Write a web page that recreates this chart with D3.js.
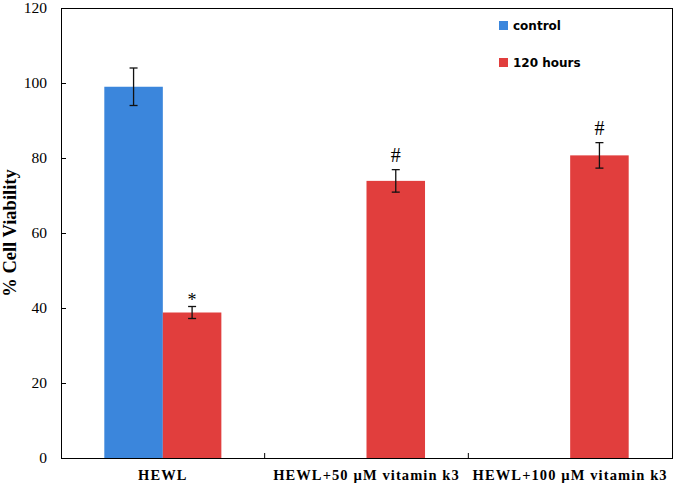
<!DOCTYPE html>
<html>
<head>
<meta charset="utf-8">
<script src="https://cdn.jsdelivr.net/npm/d3@7"></script>
<style>
  body { margin: 0; background: #fff; overflow: hidden; }
  svg { display: block; }
</style>
</head>
<body>
<script>
var categories = ["HEWL", "HEWL+50 \u00b5M vitamin k3", "HEWL+100 \u00b5M vitamin k3"];
var seriesNames = ["control", "120 hours"];
var controlValues = [99.0, null, null];
var controlErrors = [5.0, null, null];
var hoursValues = [38.8, 73.9, 80.7];
var hoursErrors = [1.6, 3.0, 3.4];
var marks = ["*", "#", "#"];
var yTicks = [0, 20, 40, 60, 80, 100, 120];

var colors = ["#3b86dc", "#e13e3d"];

var width = 675, height = 486;
var plotLeft = 61, plotRight = 672, plotTop = 8, plotBottom = 458;

var svg = d3.select("body").append("svg")
    .attr("width", width)
    .attr("height", height);

var x = d3.scaleBand().domain(categories).range([plotLeft, plotRight]);
var xInner = d3.scaleBand().domain(seriesNames)
    .range([0, x.bandwidth()])
    .paddingOuter(0.74);
var y = d3.scaleLinear().domain([0, 120]).range([plotBottom, plotTop]);

// plot box
svg.append("rect")
    .attr("x", plotLeft + 0.5).attr("y", plotTop + 0.5)
    .attr("width", plotRight - plotLeft).attr("height", plotBottom - plotTop)
    .style("fill", "none").style("stroke", "#000").style("stroke-width", 1);

// bars
var rows = [];
categories.forEach(function (c, i) {
    if (controlValues[i] != null) rows.push({cat: c, s: 0, v: controlValues[i], e: controlErrors[i]});
    if (hoursValues[i] != null) rows.push({cat: c, s: 1, v: hoursValues[i], e: hoursErrors[i], mark: marks[i]});
});

svg.selectAll("rect.bar")
    .data(rows)
    .enter()
    .append("rect")
    .attr("class", "bar")
    .attr("x", function (d) { return x(d.cat) + xInner(seriesNames[d.s]); })
    .attr("y", function (d) { return y(d.v); })
    .attr("width", xInner.bandwidth())
    .attr("height", function (d) { return y(0) - y(d.v); })
    .style("fill", function (d) { return colors[d.s]; });

// error bars
var eb = svg.selectAll("g.err")
    .data(rows)
    .enter()
    .append("g")
    .attr("class", "err")
    .style("stroke", "#111")
    .style("stroke-width", 1.3);
function cx(d) { return x(d.cat) + xInner(seriesNames[d.s]) + xInner.bandwidth() / 2; }
eb.append("line")
    .attr("x1", cx).attr("x2", cx)
    .attr("y1", function (d) { return y(d.v + d.e); })
    .attr("y2", function (d) { return y(d.v - d.e); });
eb.append("line")
    .attr("x1", function (d) { return cx(d) - 4; }).attr("x2", function (d) { return cx(d) + 4; })
    .attr("y1", function (d) { return y(d.v + d.e); })
    .attr("y2", function (d) { return y(d.v + d.e); });
eb.append("line")
    .attr("x1", function (d) { return cx(d) - 4; }).attr("x2", function (d) { return cx(d) + 4; })
    .attr("y1", function (d) { return y(d.v - d.e); })
    .attr("y2", function (d) { return y(d.v - d.e); });

// significance marks
svg.selectAll("text.mark")
    .data(rows.filter(function (d) { return d.mark; }))
    .enter()
    .append("text")
    .attr("class", "mark")
    .attr("x", cx)
    .attr("y", function (d) { return y(d.v + d.e) - (d.mark == "*" ? 1 : 8); })
    .attr("text-anchor", "middle")
    .style("font-family", "Liberation Serif")
    .style("font-size", function (d) { return d.mark == "*" ? "18px" : "20px"; })
    .text(function (d) { return d.mark; });

// y axis
var yAxis = svg.append("g")
    .attr("transform", "translate(" + plotLeft + ",0)")
    .call(d3.axisLeft(y).tickValues(yTicks).tickSizeInner(-5).tickSizeOuter(0).tickPadding(14));
yAxis.select(".domain").remove();
yAxis.selectAll("text")
    .style("font-family", "Liberation Serif")
    .style("font-size", "15.5px")
    .style("fill", "#000");

// x axis
var xAxis = svg.append("g")
    .attr("transform", "translate(0," + plotBottom + ")")
    .call(d3.axisBottom(x).tickSize(0).tickPadding(12));
xAxis.select(".domain").remove();
xAxis.selectAll("text")
    .style("font-family", "Liberation Serif")
    .style("font-weight", "bold")
    .style("font-size", "14.5px")
    .style("letter-spacing", "1.1px")
    .style("fill", "#000");

// category divider ticks
svg.selectAll("line.xtick")
    .data(categories.slice(1))
    .enter()
    .append("line")
    .attr("x1", function (d) { return x(d); })
    .attr("x2", function (d) { return x(d); })
    .attr("y1", plotBottom)
    .attr("y2", plotBottom - 5)
    .style("stroke", "#000");

// y label
svg.append("text")
    .attr("transform", "translate(16," + ((plotTop + plotBottom) / 2) + ") rotate(-90)")
    .attr("text-anchor", "middle")
    .style("font-family", "Liberation Serif")
    .style("font-weight", "bold")
    .style("font-size", "18.5px")
    .text("% Cell Viability");

// legend
var legend = svg.selectAll("g.legend")
    .data(seriesNames)
    .enter()
    .append("g")
    .attr("class", "legend")
    .attr("transform", function (d, i) { return "translate(499," + (21 + i * 37) + ")"; });
legend.append("rect")
    .attr("width", 9).attr("height", 9)
    .style("fill", function (d, i) { return colors[i]; });
legend.append("text")
    .attr("x", 14).attr("y", 9)
    .style("font-family", "DejaVu Sans")
    .style("font-weight", "bold")
    .style("font-size", "12px")
    .text(function (d) { return d; });
</script>
</body>
</html>
